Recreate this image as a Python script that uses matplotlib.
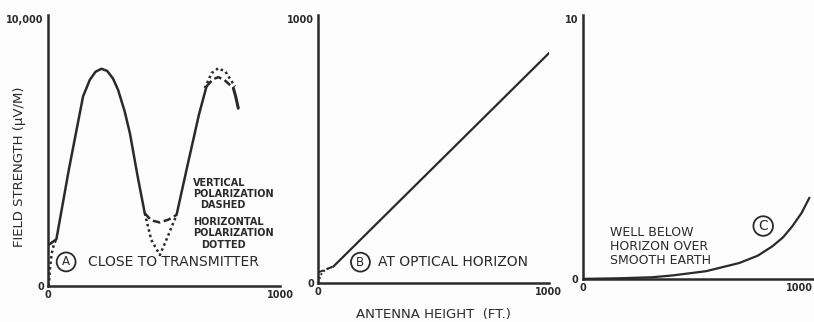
import matplotlib.pyplot as plt

INK = '#2a2a2a'

# panel A: close to transmitter (field strength 0..10,000)
a_solid1_x = [0, 36, 90, 151, 180, 205, 230, 255, 280, 302, 330, 353, 385, 417]
a_solid1_y = [1500, 1720, 4300, 6990, 7600, 7900, 8010, 7930, 7650, 7230, 6450, 5630, 4100, 2680]
a_vert_dip_x = [417, 445, 482, 520, 554]
a_vert_dip_y = [2680, 2420, 2340, 2450, 2620]
a_horiz_dip_x = [417, 445, 482, 515, 554]
a_horiz_dip_y = [2680, 1700, 1140, 1800, 2620]
a_solid2_x = [554, 600, 650, 683]
a_solid2_y = [2620, 4400, 6300, 7355]
a_vert_peak_x = [683, 710, 734, 760, 799]
a_vert_peak_y = [7355, 7620, 7700, 7600, 7294]
a_horiz_peak_x = [676, 705, 734, 765, 806]
a_horiz_peak_y = [7294, 7850, 8032, 7900, 7355]
a_tail_x = [799, 810, 820]
a_tail_y = [7294, 6950, 6556]
a_horiz_start_x = [3, 8, 16, 26, 36]
a_horiz_start_y = [0, 600, 1200, 1550, 1720]

# panel B: at optical horizon (0..1000)
b_line_x = [66, 1000]
b_line_y = [62, 857]
b_dash_x = [0, 25, 66]
b_dash_y = [40, 48, 62]
b_dot_x = [0, 10, 30, 66]
b_dot_y = [0, 30, 50, 62]

# panel C: well below horizon (0..10)
c_x = [0, 150, 300, 390, 535, 679, 760, 824, 870, 910, 950, 983]
c_y = [0.0, 0.02, 0.06, 0.13, 0.29, 0.60, 0.88, 1.24, 1.58, 2.0, 2.5, 3.06]

plt.rcParams['font.family'] = 'DejaVu Sans'
fig = plt.figure(figsize=(8.14, 3.22), dpi=100)
fig.patch.set_facecolor('#fdfdfd')

ax_a = fig.add_axes([0.059, 0.112, 0.285, 0.842])
ax_b = fig.add_axes([0.391, 0.121, 0.283, 0.832])
ax_c = fig.add_axes([0.716, 0.134, 0.283, 0.820])


def style(ax, ytop, ytoplabel):
    ax.set_facecolor('none')
    ax.set_xlim(0, 1000)
    ax.set_ylim(0, ytop)
    for side in ('top', 'right'):
        ax.spines[side].set_visible(False)
    for side in ('left', 'bottom'):
        ax.spines[side].set_color(INK)
        ax.spines[side].set_linewidth(1.8)
    ax.set_xticks([0, 1000])
    ax.set_xticklabels(['0', '1000'])
    ax.set_yticks([0, ytop])
    ax.set_yticklabels(['0', ytoplabel])
    ax.tick_params(length=0, labelsize=7, colors=INK, pad=3)
    for lab in ax.get_xticklabels() + ax.get_yticklabels():
        lab.set_fontweight('bold')
    ax.get_yticklabels()[1].set_va('top')


def circled(ax, x, y, letter, size=8.5, pad=0.25):
    ax.text(x, y, letter, ha='center', va='center', fontsize=size, color=INK,
            bbox=dict(boxstyle='circle,pad=%s' % pad, fc='none', ec=INK, lw=1.3))


lw = 1.8
style(ax_a, 10000, '10,000')
ax_a.plot(a_solid1_x, a_solid1_y, color=INK, lw=lw, solid_capstyle='round')
ax_a.plot(a_vert_dip_x, a_vert_dip_y, color=INK, lw=lw, ls=(0, (3, 1.5)))
ax_a.plot(a_horiz_dip_x, a_horiz_dip_y, color=INK, lw=lw, ls=(0, (1, 1.2)))
ax_a.plot(a_solid2_x, a_solid2_y, color=INK, lw=lw, solid_capstyle='round')
ax_a.plot(a_vert_peak_x, a_vert_peak_y, color=INK, lw=lw, ls=(0, (3, 1.5)))
ax_a.plot(a_horiz_peak_x, a_horiz_peak_y, color=INK, lw=lw, ls=(0, (1, 1.2)))
ax_a.plot(a_tail_x, a_tail_y, color=INK, lw=lw + 0.4, solid_capstyle='round')
ax_a.plot(a_horiz_start_x, a_horiz_start_y, color=INK, lw=lw, ls=(0, (1, 1.2)))

small = dict(fontsize=7, color=INK, fontweight='bold', va='center', ha='left')
ax_a.text(625, 3800, 'VERTICAL', **small)
ax_a.text(625, 3395, 'POLARIZATION', **small)
ax_a.text(655, 2989, 'DASHED', **small)
ax_a.text(625, 2362, 'HORIZONTAL', **small)
ax_a.text(625, 1956, 'POLARIZATION', **small)
ax_a.text(659, 1513, 'DOTTED', **small)
circled(ax_a, 78, 886, 'A')
ax_a.text(172, 886, 'CLOSE TO TRANSMITTER', fontsize=10, color=INK, va='center', ha='left')
ax_a.set_ylabel('FIELD STRENGTH (\u03bcV/M)', fontsize=9.5, color=INK)
ax_a.yaxis.set_label_coords(-0.095, 0.44)

style(ax_b, 1000, '1000')
ax_b.plot(b_line_x, b_line_y, color=INK, lw=1.6)
ax_b.plot(b_dash_x, b_dash_y, color=INK, lw=1.4, ls=(0, (3, 1.5)))
ax_b.plot(b_dot_x, b_dot_y, color=INK, lw=1.4, ls=(0, (1, 1.2)))
circled(ax_b, 183, 78, 'B')
ax_b.text(261, 78, 'AT OPTICAL HORIZON', fontsize=10, color=INK, va='center', ha='left')
ax_b.set_xlabel('ANTENNA HEIGHT  (FT.)', fontsize=9.5, color=INK, labelpad=8)

style(ax_c, 10, '10')
ax_c.get_xticklabels()[1].set_ha('right')
ax_c.plot(c_x, c_y, color=INK, lw=1.6)
circled(ax_c, 783, 2.0, 'C', size=10, pad=0.2)
for i, line in enumerate(['WELL BELOW', 'HORIZON OVER', 'SMOOTH EARTH']):
    ax_c.text(117, 1.74 - i * 0.53, line, fontsize=9, color=INK, va='center', ha='left')

fig.savefig('out.png', dpi=100, facecolor=fig.get_facecolor())
